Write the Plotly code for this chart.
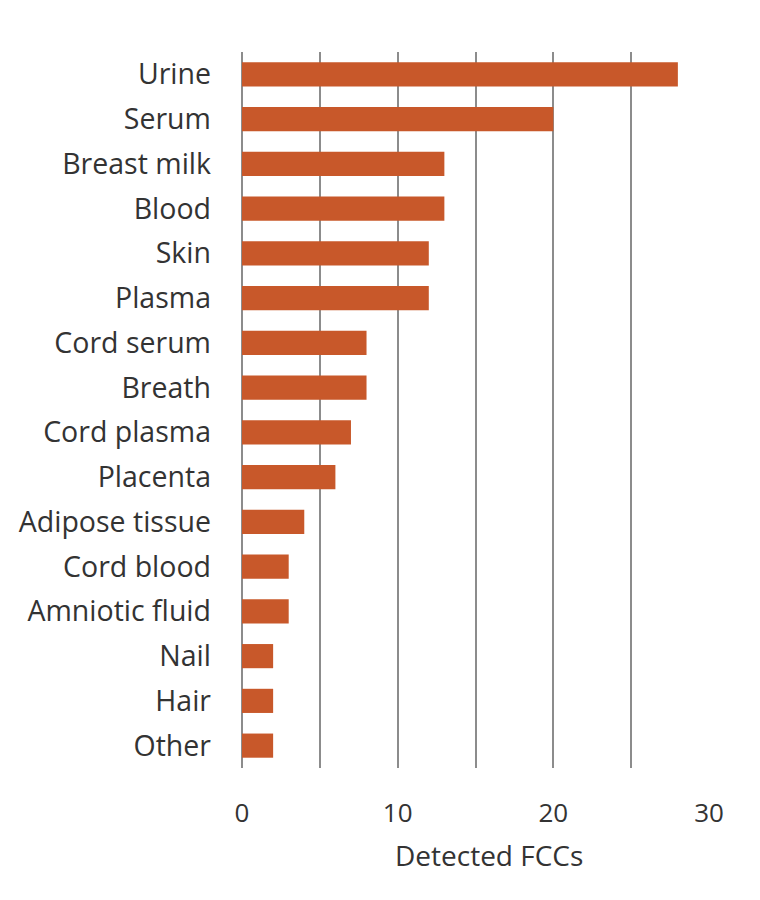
import plotly.graph_objects as go

categories = ["Urine", "Serum", "Breast milk", "Blood", "Skin", "Plasma", "Cord serum",
              "Breath", "Cord plasma", "Placenta", "Adipose tissue", "Cord blood",
              "Amniotic fluid", "Nail", "Hair", "Other"]
values = [28, 20, 13, 13, 12, 12, 8, 8, 7, 6, 4, 3, 3, 2, 2, 2]
x_ticks = [0, 10, 20, 30]
x_title = "Detected FCCs"

font = "Open Sans"
fig = go.Figure(go.Bar(
    x=values, y=categories, orientation="h",
    marker=dict(color="#C8582A", line=dict(width=0)),
))
fig.update_layout(
    width=760, height=900,
    margin=dict(l=234, r=59, t=44, b=140),
    plot_bgcolor="white", paper_bgcolor="white",
    bargap=0.46, showlegend=False,
    font=dict(family=font, color="#333333"),
)
fig.update_xaxes(
    range=[0, 30], tickvals=x_ticks, ticktext=[str(v) for v in x_ticks],
    showgrid=True, gridcolor="#8c8c8c", gridwidth=2,
    minor=dict(dtick=5, showgrid=True, gridcolor="#8c8c8c", gridwidth=2),
    zeroline=True, zerolinecolor="#8c8c8c", zerolinewidth=2,
    showline=False, ticks="", ticklabelstandoff=27,
    tickfont=dict(size=26, color="#333333"),
)
fig.add_annotation(
    text=x_title, xref="x domain", yref="y domain", x=0.529, y=0,
    yshift=-87, showarrow=False, xanchor="center", yanchor="middle",
    font=dict(size=28, color="#333333", family=font),
)
fig.update_yaxes(
    categoryorder="array", categoryarray=categories[::-1],
    showgrid=False, showline=False, ticks="", ticklabelstandoff=30,
    tickfont=dict(size=28.5, color="#333333"),
)
fig.write_html("out.html")
